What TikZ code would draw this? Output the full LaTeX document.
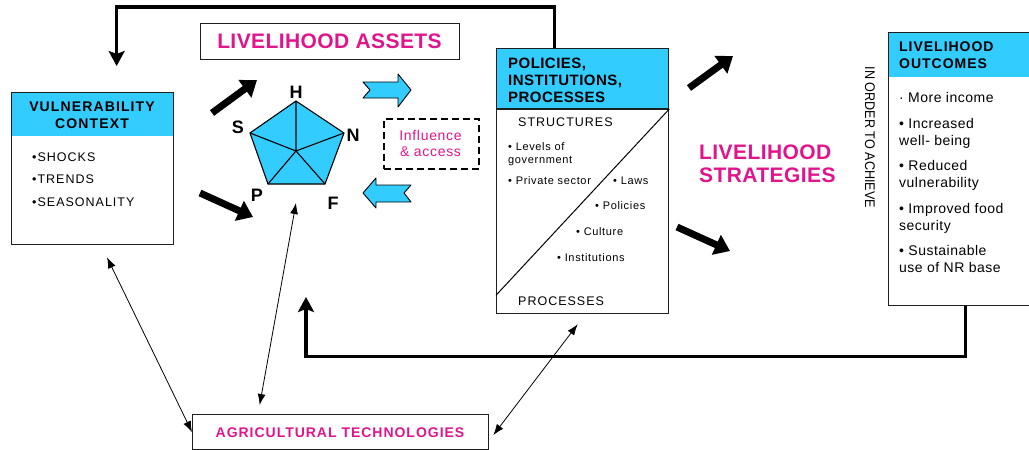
\documentclass[tikz,border=0pt]{standalone}
\usepackage{fontspec}
\setmainfont{Liberation Sans}
\usetikzlibrary{arrows.meta}
\definecolor{cyanb}{RGB}{51,204,255}
\definecolor{mag}{RGB}{225,20,140}
\definecolor{edge}{RGB}{30,30,30}
\tikzset{
  boxframe/.style={draw=edge, line width=1.3pt, inner sep=0pt, anchor=north west},
  hdrfill/.style={fill=cyanb, inner sep=0pt, anchor=north west},
  dashbox/.style={draw=black, line width=1.8pt, dash pattern=on 7pt off 4pt, inner sep=0pt, anchor=north west},
  lbl/.style={inner sep=0pt, anchor=base west},
  clbl/.style={inner sep=0pt, anchor=base},
  vhdr/.style={font={\fontsize{14}{16}\selectfont\bfseries\addfontfeatures{LetterSpace=8}}},
  vtxt/.style={font={\fontsize{12.5}{14}\selectfont\addfontfeatures{LetterSpace=8}}},
  assettxt/.style={text=mag, font={\fontsize{21}{24}\selectfont\bfseries\addfontfeatures{LetterSpace=2}}},
  ptxt/.style={inner sep=0pt, font={\fontsize{18}{20}\selectfont\bfseries}},
  infltxt/.style={text=mag, font={\fontsize{14}{16}\selectfont\addfontfeatures{LetterSpace=5}}},
  piphdr/.style={font={\fontsize{15}{17}\selectfont\bfseries\addfontfeatures{LetterSpace=3}}},
  pipcap/.style={font={\fontsize{12.5}{14}\selectfont\addfontfeatures{LetterSpace=8}}},
  pipsmall/.style={font={\fontsize{11}{13}\selectfont\addfontfeatures{LetterSpace=6}}},
  strattxt/.style={text=mag, font={\fontsize{21}{24}\selectfont\bfseries\addfontfeatures{LetterSpace=2}}},
  outhdr/.style={font={\fontsize{14}{16}\selectfont\bfseries\addfontfeatures{LetterSpace=7}}},
  outtxt/.style={font={\fontsize{14}{16}\selectfont\addfontfeatures{LetterSpace=3.5}}},
  achtxt/.style={inner sep=0pt, rotate=-90, font={\fontsize{14}{16}\selectfont\addfontfeatures{FakeStretch=0.9}}},
  agritxt/.style={text=mag, font={\fontsize{14}{16}\selectfont\bfseries\addfontfeatures{LetterSpace=7}}},
  bigarrow/.style={line width=7pt, -{Triangle[length=15pt,width=21pt]}},
  looparrow/.style={line width=3.5pt, line join=miter, -{Stealth[length=15pt,width=16pt,inset=3pt]}},
  thinarrow/.style={line width=0.8pt, {Latex[length=11pt,width=8pt]}-{Latex[length=11pt,width=8pt]}},
  bluearrow/.style={fill=cyanb, draw=black, line width=0.9pt, line join=round},
}
\begin{document}
\begin{tikzpicture}[x=1pt, y=-1pt]
\useasboundingbox (0,0) rectangle (1029,450);

% ---------- Vulnerability context ----------
\node[hdrfill, minimum width=162pt, minimum height=44pt] (vulnh) at (11,92) {};
\node[boxframe, minimum width=162pt, minimum height=152pt] (vuln) at (11,92) {};
\node[clbl, vhdr] (vulnt1) at (92,111) {VULNERABILITY};
\node[clbl, vhdr] (vulnt2) at (92,128) {CONTEXT};
\node[lbl, vtxt] (v1) at (32,161) {•SHOCKS};
\node[lbl, vtxt] (v2) at (32,183) {•TRENDS};
\node[lbl, vtxt] (v3) at (32,206) {•SEASONALITY};

% ---------- Livelihood assets ----------
\node[boxframe, minimum width=259pt, minimum height=36pt] (assets) at (200,23) {};
\node[clbl, assettxt] (assetst) at (329.5,48) {LIVELIHOOD ASSETS};

% pentagon
\coordinate (pH) at (296,101);
\coordinate (pN) at (344,133);
\coordinate (pF) at (325,184);
\coordinate (pP) at (268,184);
\coordinate (pS) at (250,133);
\coordinate (pC) at (296,151);
\filldraw[fill=cyanb, draw=black, line width=1.1pt, line join=miter] (pH)--(pN)--(pF)--(pP)--(pS)--cycle;
\draw[line width=1.1pt] (pC)--(pH) (pC)--(pN) (pC)--(pF) (pC)--(pP) (pC)--(pS);
\node[ptxt] (lH) at (296,92.5) {H};
\node[ptxt] (lS) at (238,127) {S};
\node[ptxt] (lN) at (353,135) {N};
\node[ptxt] (lP) at (257,195) {P};
\node[ptxt] (lF) at (333,203) {F};

% blue arrows
\filldraw[bluearrow] (363,82) -- (398,82) -- (398,74) -- (411,90) -- (398,107) -- (398,98) -- (363,98) -- (370,90) -- cycle;
\filldraw[bluearrow] (411,185) -- (376,185) -- (376,178) -- (363,193) -- (376,208) -- (376,202) -- (411,202) -- (404,193) -- cycle;

% influence & access
\node[dashbox, minimum width=95pt, minimum height=50pt] (infl) at (383,118) {};
\node[clbl, infltxt] (infl1) at (430.5,140) {Influence};
\node[clbl, infltxt] (infl2) at (430.5,156) {\& access};

% ---------- Policies, institutions, processes ----------
\node[hdrfill, minimum width=172pt, minimum height=61pt] (piph) at (496,48) {};
\node[boxframe, minimum width=172pt, minimum height=265pt] (pip) at (496,48) {};
\draw[draw=edge, line width=1.5pt] ([shift={(0,61)}]pip.north west) -- ([shift={(0,61)}]pip.north east);
\draw[draw=black, line width=1pt] ([shift={(0,61)}]pip.north east) -- ([shift={(0,-19)}]pip.south west);
\node[lbl, piphdr] (pipt1) at (508,68) {POLICIES,};
\node[lbl, piphdr] (pipt2) at (508,85) {INSTITUTIONS,};
\node[lbl, piphdr] (pipt3) at (508,102) {PROCESSES};
\node[lbl, pipcap] (struct) at (518,126) {STRUCTURES};
\node[lbl, pipcap] (procs) at (518,305) {PROCESSES};
\node[lbl, pipsmall] (s1) at (508,150) {• Levels of};
\node[lbl, pipsmall] (s2) at (508,163) {government};
\node[lbl, pipsmall] (s3) at (508,184) {• Private sector};
\node[lbl, pipsmall] (s4) at (613,184) {• Laws};
\node[lbl, pipsmall] (s5) at (595,209) {• Policies};
\node[lbl, pipsmall] (s6) at (576,235) {• Culture};
\node[lbl, pipsmall] (s7) at (557,261) {• Institutions};

% ---------- Livelihood strategies ----------
\node[lbl, strattxt] (strat1) at (699,159) {LIVELIHOOD};
\node[lbl, strattxt] (strat2) at (699,182) {STRATEGIES};
\node[achtxt] (achieve) at (870,137.5) {IN ORDER TO ACHIEVE};

% ---------- Livelihood outcomes ----------
\node[hdrfill, minimum width=142pt, minimum height=45pt] (outh) at (888,32) {};
\node[boxframe, minimum width=142pt, minimum height=273pt] (out) at (888,32) {};
\node[lbl, outhdr] (outt1) at (899,51) {LIVELIHOOD};
\node[lbl, outhdr] (outt2) at (899,68) {OUTCOMES};
\node[lbl, outtxt] (o1) at (899,102) {· More income};
\node[lbl, outtxt] (o2) at (899,128) {• Increased};
\node[lbl, outtxt] (o3) at (899,145) {well- being};
\node[lbl, outtxt] (o4) at (899,170) {• Reduced};
\node[lbl, outtxt] (o5) at (899,187) {vulnerability};
\node[lbl, outtxt] (o6) at (899,213) {• Improved food};
\node[lbl, outtxt] (o7) at (899,230) {security};
\node[lbl, outtxt] (o8) at (899,255) {• Sustainable};
\node[lbl, outtxt] (o9) at (899,272) {use of NR base};

% ---------- Agricultural technologies ----------
\node[boxframe, minimum width=296pt, minimum height=35pt] (agri) at (192,414) {};
\node[clbl, agritxt] (agrit) at (340,437) {AGRICULTURAL TECHNOLOGIES};

% ---------- thick black arrows ----------
\coordinate (a1s) at (212,113); \coordinate (a1e) at (257,80);
\coordinate (a2s) at (200,193); \coordinate (a2e) at (253,217);
\coordinate (a3s) at (689,88);  \coordinate (a3e) at (733,56);
\coordinate (a4s) at (677,227); \coordinate (a4e) at (730,251);
\draw[bigarrow] (a1s) -- (a1e);
\draw[bigarrow] (a2s) -- (a2e);
\draw[bigarrow] (a3s) -- (a3e);
\draw[bigarrow] (a4s) -- (a4e);

% ---------- feedback loops ----------
\draw[looparrow] ([shift={(-28,0)}]pip.north) -- ++(0,-41) -| ([shift={(24,-26)}]vuln.north);
\coordinate (loopend) at (306,297);
\draw[looparrow] ([shift={(6,0)}]out.south) -- ++(0,50) -| (loopend);

% ---------- thin double arrows ----------
\draw[thinarrow] ([shift={(96,12)}]vuln.south west) -- (agri.west);
\draw[thinarrow] ([shift={(0,52)}]pC) -- ([shift={(-81,-9)}]agri.north);
\draw[thinarrow] ([shift={(-5,10)}]pip.south) -- ([shift={(4,3)}]agri.east);
\end{tikzpicture}
\end{document}
